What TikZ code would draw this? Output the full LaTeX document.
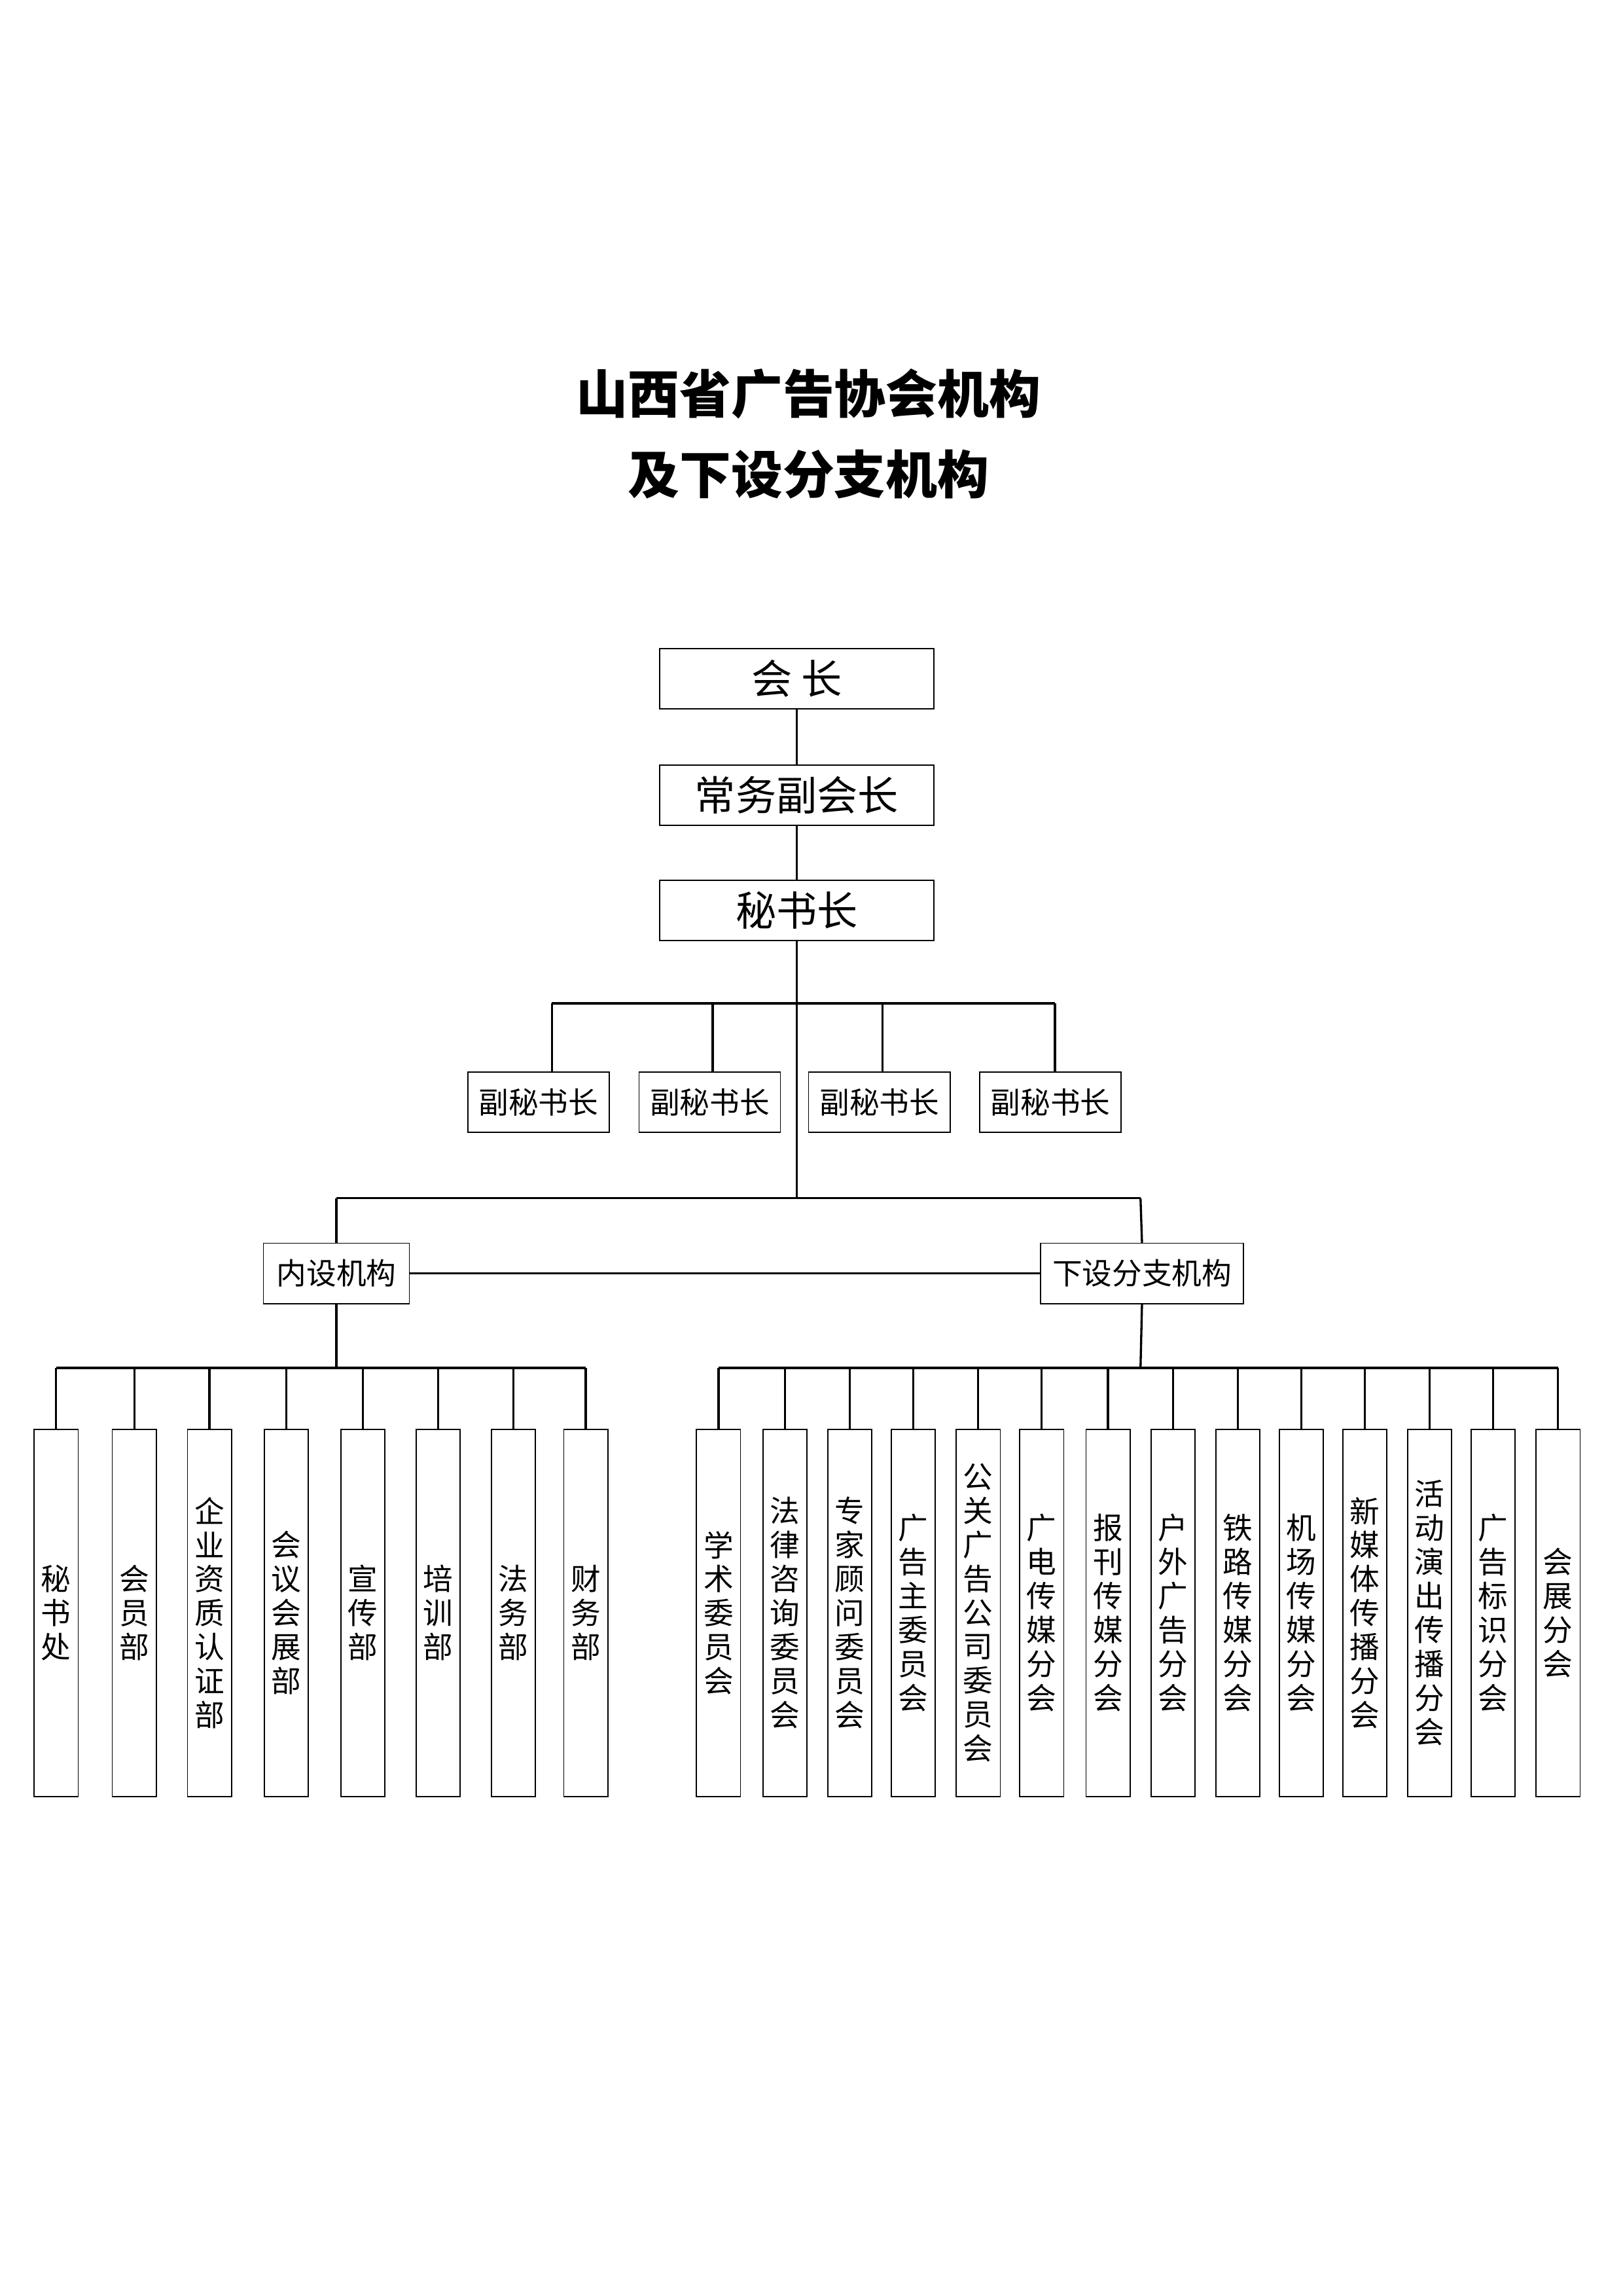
\documentclass[tikz,border=0pt]{standalone}
\usepackage{fontspec}
\setmainfont{Noto Sans CJK SC}
\begin{document}
\begin{tikzpicture}[x=0.1909mm, y=-0.1909mm,
  topbox/.style={draw, minimum width=35.5mm, minimum height=7.8mm, font=\fontsize{15}{18}\selectfont, inner sep=0pt},
  vicebox/.style={draw, minimum width=18.3mm, minimum height=7.8mm, font=\fontsize{11}{13}\selectfont, inner sep=0pt},
  groupbox/.style={draw, minimum height=7.8mm, font=\fontsize{11}{13}\selectfont, inner xsep=2pt, inner ysep=0pt},
  deptbox/.style={draw, minimum width=5.7mm, minimum height=47.5mm, font=\fontsize{11}{12.5}\selectfont, align=center, inner sep=0pt},
  line/.style={thick}]
  \useasboundingbox (0,0) rectangle (1100,1556);

  %title
  \node[font=\fontsize{19}{24}\selectfont\bfseries, align=center] (title) at (548,294) {山西省广告协会机构\\[2mm]及下设分支机构};

  %top chain
  \node[topbox] (pres) at (540,460) {会\ 长};
  \node[topbox] (evp) at (540,539) {常务副会长};
  \node[topbox] (sg) at (540,617) {秘书长};
  \draw[line] (pres) -- (evp);
  \draw[line] (evp) -- (sg);

  %vice secretaries
  \coordinate (hub) at (540,812);
  \draw[line] (sg) -- (hub);
  \foreach \x/\name in {365/v1,481/v2,596/v3,712/v4}{
    \node[vicebox] (\name) at (\x,747) {副秘书长};
  }
  \draw[line] (374,680) -- (715,680);
  \foreach \x/\name in {374/v1,483/v2,598/v3,715/v4}{
    \draw[line] (\x,680) -- (\x,727);
  }

  %two groups
  \node[groupbox, minimum width=18.9mm] (inner) at (228,863) {内设机构};
  \node[groupbox, minimum width=26.3mm] (branch) at (774,863) {下设分支机构};
  \draw[line] (228,812) -- (773,812);
  \draw[line] (228,812) -- (inner.north);
  \draw[line] (773,812) -- (branch.north);
  \draw[line] (inner) -- (branch);

  %internal departments
  \coordinate (ibar) at (228,927);
  \draw[line] (inner.south) -- (ibar);
  \draw[line] (38,927) -- (397,927);
  \foreach \x/\txt [count=\i] in {38/秘\\书\\处, 91/会\\员\\部, 142/企\\业\\资\\质\\认\\证\\部, 194/会\\议\\会\\展\\部, 246/宣\\传\\部, 297/培\\训\\部, 348/法\\务\\部, 397/财\\务\\部}{
    \node[deptbox] (d\i) at (\x,1093) {\txt};
    \draw[line] (\x,927) -- (d\i.north);
  }

  %branches
  \coordinate (bbar) at (773,927);
  \draw[line] (branch.south) -- (bbar);
  \draw[line] (487,927) -- (1056,927);
  \foreach \x/\txt [count=\i] in {487/学\\术\\委\\员\\会, 532/法\\律\\咨\\询\\委\\员\\会, 576/专\\家\\顾\\问\\委\\员\\会, 619/广\\告\\主\\委\\员\\会, 663/公\\关\\广\\告\\公\\司\\委\\员\\会, 706/广\\电\\传\\媒\\分\\会, 751/报\\刊\\传\\媒\\分\\会, 795/户\\外\\广\\告\\分\\会, 839/铁\\路\\传\\媒\\分\\会, 882/机\\场\\传\\媒\\分\\会, 925/新\\媒\\体\\传\\播\\分\\会, 969/活\\动\\演\\出\\传\\播\\分\\会, 1012/广\\告\\标\\识\\分\\会, 1056/会\\展\\分\\会}{
    \node[deptbox] (b\i) at (\x,1093) {\txt};
    \draw[line] (\x,927) -- (b\i.north);
  }
\end{tikzpicture}
\end{document}
